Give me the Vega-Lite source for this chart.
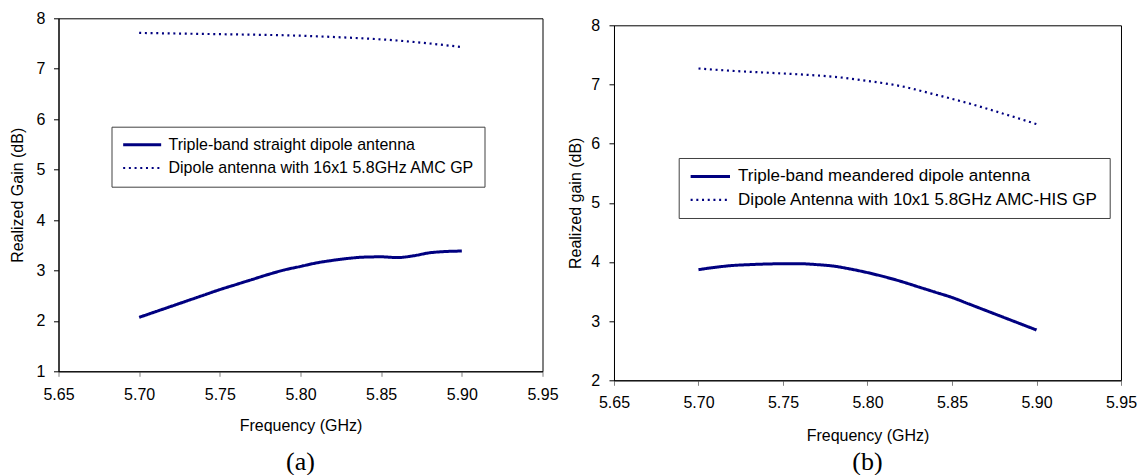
{
  "$schema": "https://vega.github.io/schema/vega-lite/v6.json",
  "background": "white",
  "padding": {"left": 8.5, "top": 9.3, "right": 0, "bottom": 0},
  "autosize": {"type": "pad"},
  "spacing": 7.5,
  "datasets": {
    "a": [
      {"f": 5.70, "g": 2.07, "s": "Triple-band straight dipole antenna"},
      {"f": 5.71, "g": 2.18, "s": "Triple-band straight dipole antenna"},
      {"f": 5.72, "g": 2.29, "s": "Triple-band straight dipole antenna"},
      {"f": 5.73, "g": 2.40, "s": "Triple-band straight dipole antenna"},
      {"f": 5.74, "g": 2.51, "s": "Triple-band straight dipole antenna"},
      {"f": 5.75, "g": 2.62, "s": "Triple-band straight dipole antenna"},
      {"f": 5.76, "g": 2.72, "s": "Triple-band straight dipole antenna"},
      {"f": 5.77, "g": 2.82, "s": "Triple-band straight dipole antenna"},
      {"f": 5.78, "g": 2.92, "s": "Triple-band straight dipole antenna"},
      {"f": 5.79, "g": 3.01, "s": "Triple-band straight dipole antenna"},
      {"f": 5.80, "g": 3.08, "s": "Triple-band straight dipole antenna"},
      {"f": 5.81, "g": 3.15, "s": "Triple-band straight dipole antenna"},
      {"f": 5.82, "g": 3.20, "s": "Triple-band straight dipole antenna"},
      {"f": 5.83, "g": 3.24, "s": "Triple-band straight dipole antenna"},
      {"f": 5.84, "g": 3.265, "s": "Triple-band straight dipole antenna"},
      {"f": 5.85, "g": 3.27, "s": "Triple-band straight dipole antenna"},
      {"f": 5.86, "g": 3.255, "s": "Triple-band straight dipole antenna"},
      {"f": 5.87, "g": 3.29, "s": "Triple-band straight dipole antenna"},
      {"f": 5.88, "g": 3.35, "s": "Triple-band straight dipole antenna"},
      {"f": 5.89, "g": 3.375, "s": "Triple-band straight dipole antenna"},
      {"f": 5.90, "g": 3.385, "s": "Triple-band straight dipole antenna"},
      {"f": 5.70, "g": 7.71, "s": "Dipole antenna with 16x1 5.8GHz AMC GP"},
      {"f": 5.72, "g": 7.70, "s": "Dipole antenna with 16x1 5.8GHz AMC GP"},
      {"f": 5.74, "g": 7.69, "s": "Dipole antenna with 16x1 5.8GHz AMC GP"},
      {"f": 5.76, "g": 7.68, "s": "Dipole antenna with 16x1 5.8GHz AMC GP"},
      {"f": 5.78, "g": 7.67, "s": "Dipole antenna with 16x1 5.8GHz AMC GP"},
      {"f": 5.80, "g": 7.655, "s": "Dipole antenna with 16x1 5.8GHz AMC GP"},
      {"f": 5.82, "g": 7.63, "s": "Dipole antenna with 16x1 5.8GHz AMC GP"},
      {"f": 5.84, "g": 7.60, "s": "Dipole antenna with 16x1 5.8GHz AMC GP"},
      {"f": 5.86, "g": 7.56, "s": "Dipole antenna with 16x1 5.8GHz AMC GP"},
      {"f": 5.88, "g": 7.50, "s": "Dipole antenna with 16x1 5.8GHz AMC GP"},
      {"f": 5.90, "g": 7.43, "s": "Dipole antenna with 16x1 5.8GHz AMC GP"}
    ],
    "b": [
      {"f": 5.70, "g": 3.87, "s": "Triple-band meandered dipole antenna"},
      {"f": 5.71, "g": 3.91, "s": "Triple-band meandered dipole antenna"},
      {"f": 5.72, "g": 3.94, "s": "Triple-band meandered dipole antenna"},
      {"f": 5.73, "g": 3.955, "s": "Triple-band meandered dipole antenna"},
      {"f": 5.74, "g": 3.965, "s": "Triple-band meandered dipole antenna"},
      {"f": 5.75, "g": 3.97, "s": "Triple-band meandered dipole antenna"},
      {"f": 5.76, "g": 3.97, "s": "Triple-band meandered dipole antenna"},
      {"f": 5.77, "g": 3.955, "s": "Triple-band meandered dipole antenna"},
      {"f": 5.78, "g": 3.93, "s": "Triple-band meandered dipole antenna"},
      {"f": 5.79, "g": 3.88, "s": "Triple-band meandered dipole antenna"},
      {"f": 5.80, "g": 3.82, "s": "Triple-band meandered dipole antenna"},
      {"f": 5.81, "g": 3.75, "s": "Triple-band meandered dipole antenna"},
      {"f": 5.82, "g": 3.67, "s": "Triple-band meandered dipole antenna"},
      {"f": 5.83, "g": 3.58, "s": "Triple-band meandered dipole antenna"},
      {"f": 5.84, "g": 3.49, "s": "Triple-band meandered dipole antenna"},
      {"f": 5.85, "g": 3.40, "s": "Triple-band meandered dipole antenna"},
      {"f": 5.86, "g": 3.29, "s": "Triple-band meandered dipole antenna"},
      {"f": 5.87, "g": 3.18, "s": "Triple-band meandered dipole antenna"},
      {"f": 5.88, "g": 3.07, "s": "Triple-band meandered dipole antenna"},
      {"f": 5.89, "g": 2.96, "s": "Triple-band meandered dipole antenna"},
      {"f": 5.90, "g": 2.85, "s": "Triple-band meandered dipole antenna"},
      {"f": 5.70, "g": 7.27, "s": "Dipole Antenna with 10x1 5.8GHz AMC-HIS GP"},
      {"f": 5.72, "g": 7.23, "s": "Dipole Antenna with 10x1 5.8GHz AMC-HIS GP"},
      {"f": 5.74, "g": 7.20, "s": "Dipole Antenna with 10x1 5.8GHz AMC-HIS GP"},
      {"f": 5.76, "g": 7.17, "s": "Dipole Antenna with 10x1 5.8GHz AMC-HIS GP"},
      {"f": 5.78, "g": 7.13, "s": "Dipole Antenna with 10x1 5.8GHz AMC-HIS GP"},
      {"f": 5.80, "g": 7.06, "s": "Dipole Antenna with 10x1 5.8GHz AMC-HIS GP"},
      {"f": 5.82, "g": 6.97, "s": "Dipole Antenna with 10x1 5.8GHz AMC-HIS GP"},
      {"f": 5.84, "g": 6.83, "s": "Dipole Antenna with 10x1 5.8GHz AMC-HIS GP"},
      {"f": 5.86, "g": 6.68, "s": "Dipole Antenna with 10x1 5.8GHz AMC-HIS GP"},
      {"f": 5.88, "g": 6.51, "s": "Dipole Antenna with 10x1 5.8GHz AMC-HIS GP"},
      {"f": 5.90, "g": 6.33, "s": "Dipole Antenna with 10x1 5.8GHz AMC-HIS GP"}
    ]
  },
  "resolve": {"scale": {"color": "independent", "strokeDash": "independent", "strokeWidth": "independent"}},
  "hconcat": [
    {
      "width": 484,
      "height": 353,
      "title": {"text": "(a)", "orient": "bottom", "font": "Liberation Serif", "fontSize": 26, "fontWeight": "normal", "offset": 14.8, "color": "black"},
      "data": {"name": "a"},
      "mark": {"type": "line", "interpolate": "monotone"},
      "encoding": {
        "x": {"field": "f", "type": "quantitative",
          "scale": {"domain": [5.65, 5.95], "nice": false, "zero": false},
          "axis": {"title": "Frequency (GHz)", "values": [5.65, 5.7, 5.75, 5.8, 5.85, 5.9, 5.95], "format": ".2f", "labelPadding": 10.5, "titlePadding": 15}},
        "y": {"field": "g", "type": "quantitative",
          "scale": {"domain": [1, 8], "nice": false, "zero": false},
          "axis": {"title": "Realized Gain (dB)", "values": [1, 2, 3, 4, 5, 6, 7, 8], "labelPadding": 8.6, "titlePadding": 11}},
        "color": {"field": "s", "type": "nominal",
          "scale": {"domain": ["Triple-band straight dipole antenna", "Dipole antenna with 16x1 5.8GHz AMC GP"], "range": ["#000080", "#000080"]},
          "legend": {"orient": "none", "legendX": 53, "legendY": 108.4, "symbolSize": 160.4, "labelFontSize": 16, "rowPadding": 7.3, "labelOffset": 31}},
        "strokeDash": {"field": "s", "type": "nominal",
          "scale": {"domain": ["Triple-band straight dipole antenna", "Dipole antenna with 16x1 5.8GHz AMC GP"], "range": [[1, 0], [2, 3.7]]},
          "legend": {"orient": "none", "legendX": 53, "legendY": 108.4, "symbolSize": 160.4, "labelFontSize": 16, "rowPadding": 7.3, "labelOffset": 31}},
        "strokeWidth": {"field": "s", "type": "nominal",
          "scale": {"domain": ["Triple-band straight dipole antenna", "Dipole antenna with 16x1 5.8GHz AMC GP"], "range": [3, 2.2]},
          "legend": {"orient": "none", "legendX": 53, "legendY": 108.4, "symbolSize": 160.4, "labelFontSize": 16, "rowPadding": 7.3, "labelOffset": 31}}
      }
    },
    {
      "bounds": "flush",
      "spacing": 6,
      "vconcat": [
        {
          "width": 507,
          "height": 1,
          "view": {"stroke": null},
          "data": {"values": []},
          "mark": {"type": "point", "opacity": 0}
        },
        {
          "width": 507,
          "height": 355,
          "title": {"text": "(b)", "orient": "bottom", "font": "Liberation Serif", "fontSize": 26, "fontWeight": "normal", "offset": 5.1, "color": "black"},
          "data": {"name": "b"},
          "mark": {"type": "line", "interpolate": "monotone"},
          "encoding": {
            "x": {"field": "f", "type": "quantitative",
              "scale": {"domain": [5.65, 5.95], "nice": false, "zero": false},
              "axis": {"title": "Frequency (GHz)", "values": [5.65, 5.7, 5.75, 5.8, 5.85, 5.9, 5.95], "format": ".2f", "labelPadding": 9.5, "titlePadding": 16.7}},
            "y": {"field": "g", "type": "quantitative",
              "scale": {"domain": [2, 8], "nice": false, "zero": false},
              "axis": {"title": "Realized gain (dB)", "values": [2, 3, 4, 5, 6, 7, 8], "labelPadding": 9.3, "titlePadding": 7}},
            "color": {"field": "s", "type": "nominal",
              "scale": {"domain": ["Triple-band meandered dipole antenna", "Dipole Antenna with 10x1 5.8GHz AMC-HIS GP"], "range": ["#000080", "#000080"]},
              "legend": {"orient": "none", "legendX": 64.7, "legendY": 139.7, "symbolSize": 172.5, "labelFontSize": 17, "rowPadding": 5.3, "labelOffset": 32.4}},
            "strokeDash": {"field": "s", "type": "nominal",
              "scale": {"domain": ["Triple-band meandered dipole antenna", "Dipole Antenna with 10x1 5.8GHz AMC-HIS GP"], "range": [[1, 0], [2, 3.7]]},
              "legend": {"orient": "none", "legendX": 64.7, "legendY": 139.7, "symbolSize": 172.5, "labelFontSize": 17, "rowPadding": 5.3, "labelOffset": 32.4}},
            "strokeWidth": {"field": "s", "type": "nominal",
              "scale": {"domain": ["Triple-band meandered dipole antenna", "Dipole Antenna with 10x1 5.8GHz AMC-HIS GP"], "range": [3, 2.2]},
              "legend": {"orient": "none", "legendX": 64.7, "legendY": 139.7, "symbolSize": 172.5, "labelFontSize": 17, "rowPadding": 5.3, "labelOffset": 32.4}}
          }
        }
      ]
    }
  ],
  "config": {
    "font": "Liberation Sans",
    "view": {"stroke": "black", "strokeWidth": 1},
    "axis": {
      "grid": false,
      "domainColor": "black",
      "tickColor": "black",
      "labelColor": "black",
      "titleColor": "black",
      "labelFont": "Liberation Sans",
      "titleFont": "Liberation Sans",
      "labelFontSize": 16,
      "titleFontSize": 16,
      "titleFontWeight": "normal",
      "tickSize": 5,
      "labelFlush": false,
      "labelOverlap": false
    },
    "axisX": {"tickColor": "#808080"},
    "legend": {
      "title": null,
      "symbolType": "M-1,0H5",
      "symbolStrokeColor": "#000080",
      "labelFont": "Liberation Sans",
      "labelColor": "black",
      "labelLimit": 0,
      "padding": 10,
      "strokeColor": "#404040",
      "fillColor": "white",
      "symbolStrokeWidth": 3
    }
  }
}
